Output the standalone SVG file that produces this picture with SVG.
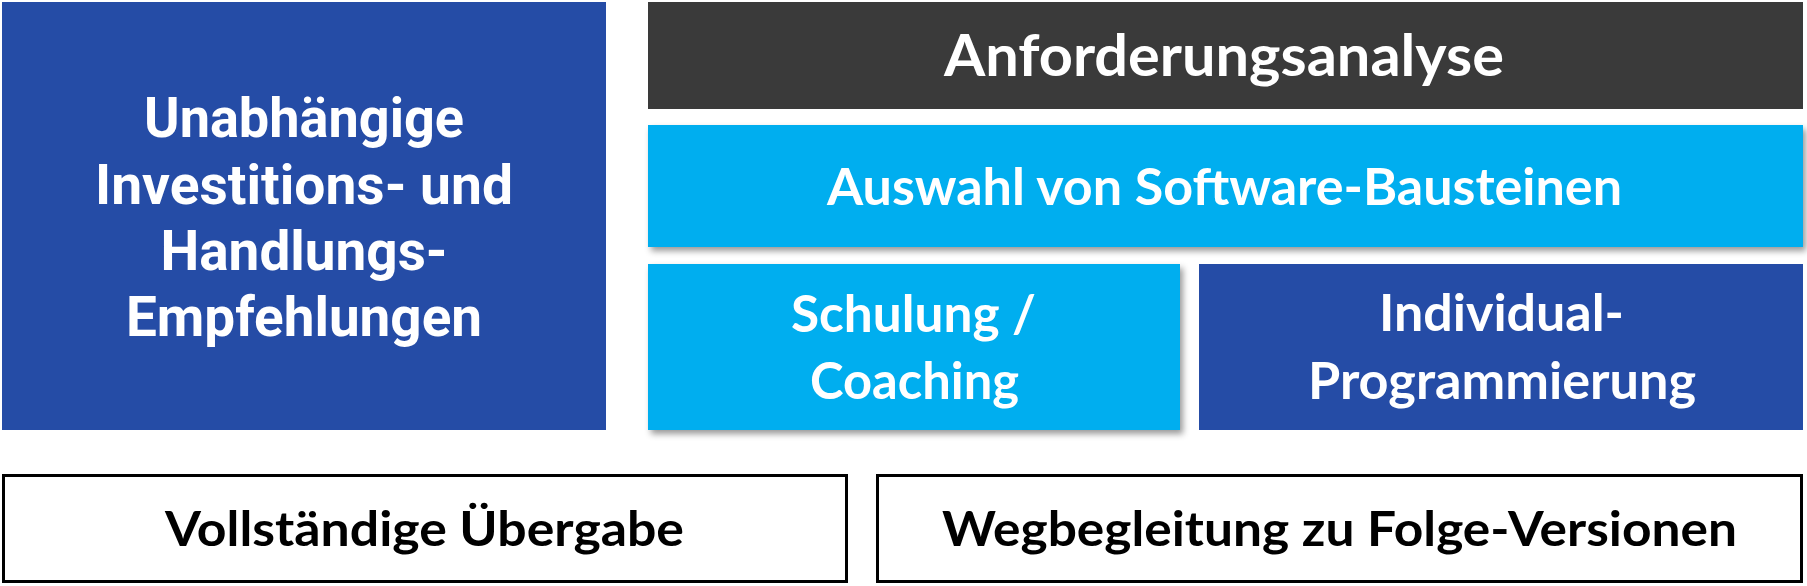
<svg xmlns="http://www.w3.org/2000/svg" width="1807" height="586" viewBox="0 0 1807 586">
  <style>
    .cal { font-family: Lato, "Open Sans", "Liberation Sans", sans-serif; font-weight: 700; text-anchor: middle; }
    .din { font-family: Roboto, "Liberation Sans", sans-serif; font-weight: 700; text-anchor: middle; fill: #ffffff; font-size: 55px; }
    .w { fill: #ffffff; }
    .k { fill: #000000; }
    .darkblue { fill: #254CA6; }
    .lightblue { fill: #00AEEF; }
    .gray { fill: #3A3A3A; }
    .outline { fill: #ffffff; stroke: #000000; stroke-width: 3; }
  </style>
  <defs>
    <filter id="shadow" x="-5%" y="-10%" width="112%" height="130%">
      <feDropShadow dx="3" dy="4" stdDeviation="3" flood-color="#000000" flood-opacity="0.4"/>
    </filter>
  </defs>

  <g id="node-empfehlungen">
    <rect class="darkblue" x="2" y="2" width="604" height="428"/>
    <text class="din" x="304" y="137" textLength="320" lengthAdjust="spacingAndGlyphs">Unabhängige</text>
    <text class="din" x="304" y="203.5" textLength="418" lengthAdjust="spacingAndGlyphs">Investitions- und</text>
    <text class="din" x="304" y="270" textLength="287" lengthAdjust="spacingAndGlyphs">Handlungs-</text>
    <text class="din" x="304" y="336" textLength="356" lengthAdjust="spacingAndGlyphs">Empfehlungen</text>
  </g>

  <g id="node-anforderungsanalyse">
    <rect class="gray" x="648" y="2" width="1155" height="107"/>
    <text class="cal w" x="1224" y="76" font-size="58" textLength="560" lengthAdjust="spacingAndGlyphs">Anforderungsanalyse</text>
  </g>

  <g id="node-auswahl">
    <rect class="lightblue" x="648" y="125" width="1155" height="122" filter="url(#shadow)"/>
    <text class="cal w" x="1224.5" y="205" font-size="52" textLength="795" lengthAdjust="spacingAndGlyphs">Auswahl von Software-Bausteinen</text>
  </g>

  <g id="node-schulung">
    <rect class="lightblue" x="648" y="264" width="532" height="166" filter="url(#shadow)"/>
    <text class="cal w" x="913.5" y="332" font-size="52" textLength="245" lengthAdjust="spacingAndGlyphs">Schulung /</text>
    <text class="cal w" x="914.5" y="399" font-size="52" textLength="209" lengthAdjust="spacingAndGlyphs">Coaching</text>
  </g>

  <g id="node-individual">
    <rect class="darkblue" x="1199" y="264" width="604" height="166"/>
    <text class="cal w" x="1501.5" y="331" font-size="52" textLength="245" lengthAdjust="spacingAndGlyphs">Individual-</text>
    <text class="cal w" x="1502" y="399" font-size="52" textLength="388" lengthAdjust="spacingAndGlyphs">Programmierung</text>
  </g>

  <g id="node-uebergabe">
    <rect class="outline" x="3.5" y="475.5" width="843" height="106"/>
    <text class="cal k" x="424.5" y="546" font-size="47" textLength="519" lengthAdjust="spacingAndGlyphs">Vollständige Übergabe</text>
  </g>

  <g id="node-wegbegleitung">
    <rect class="outline" x="877.5" y="475.5" width="924" height="106"/>
    <text class="cal k" x="1339.5" y="546" font-size="47" textLength="795" lengthAdjust="spacingAndGlyphs">Wegbegleitung zu Folge-Versionen</text>
  </g>

  <g id="connectors"></g>
</svg>
